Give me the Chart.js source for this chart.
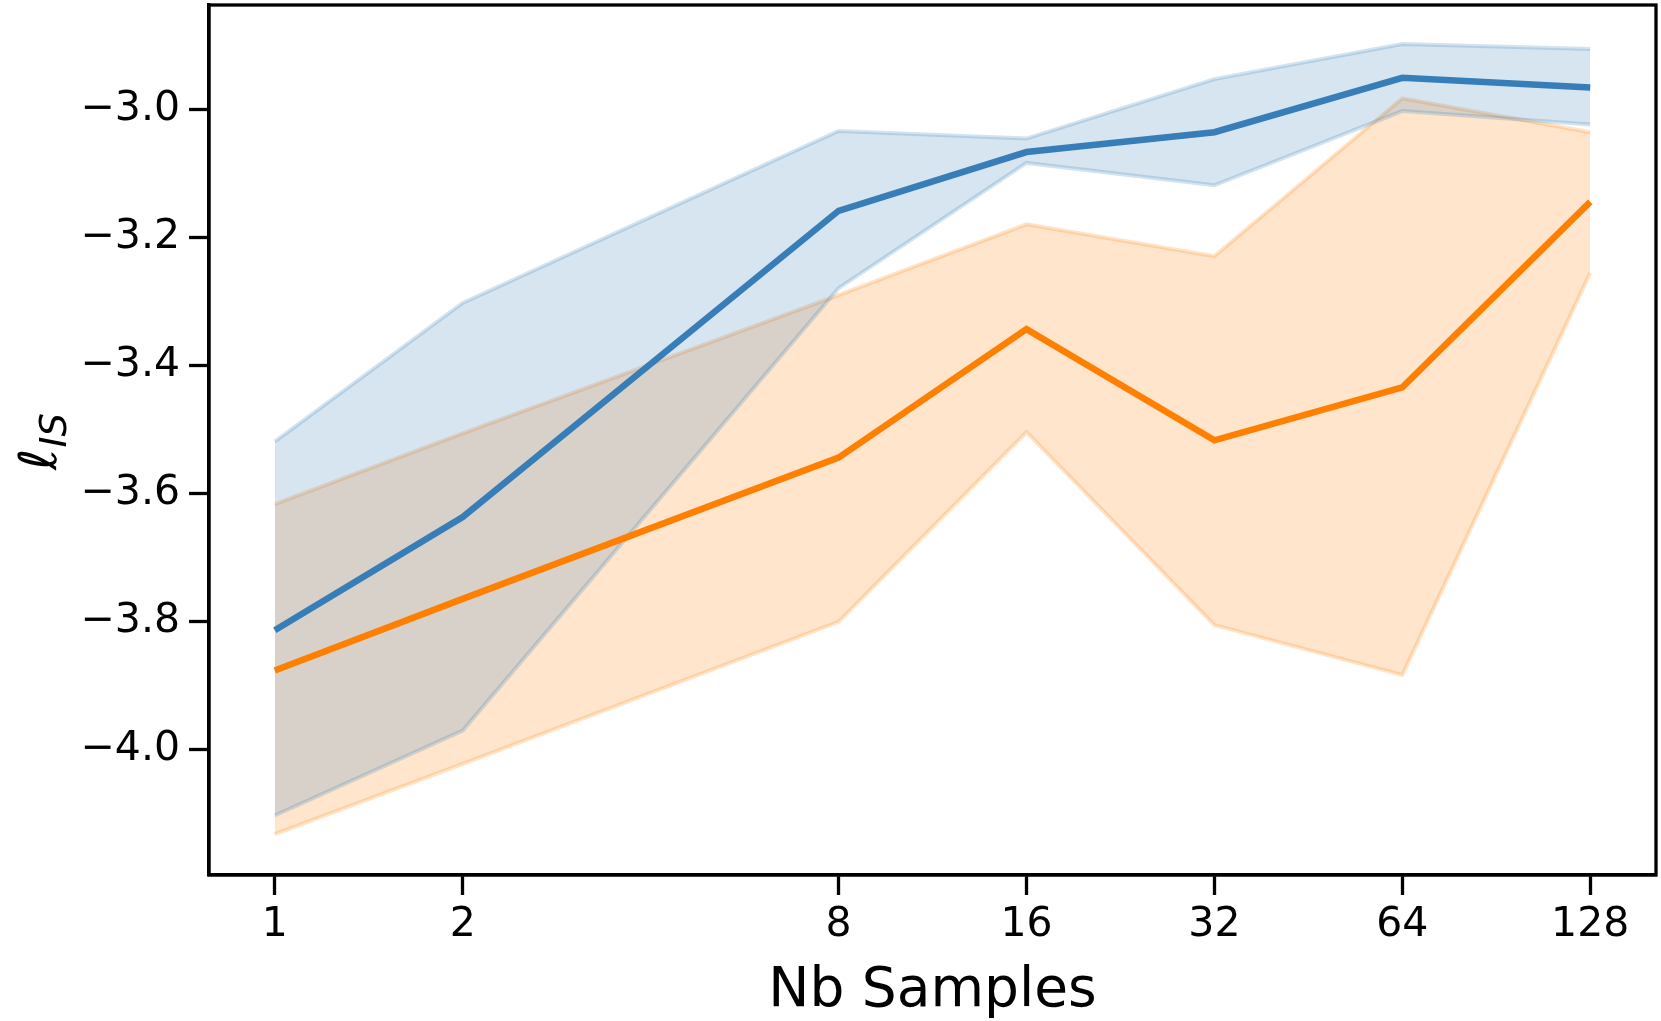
<!DOCTYPE html>
<html>
<head>
<meta charset="utf-8">
<script src="https://cdn.jsdelivr.net/npm/chart.js@4.4.1/dist/chart.umd.min.js"></script>
<style>
  html, body { margin: 0; padding: 0; background: #fff; }
  #chart { display: block; }
</style>
</head>
<body>
<canvas id="chart" width="1661" height="1021"></canvas>
<script>
// samples on a log2 axis
const samples = [1, 2, 8, 16, 32, 64, 128];
const xTickLabels = ["1", "2", "8", "16", "32", "64", "128"];
const yTicks = [-4.0, -3.8, -3.6, -3.4, -3.2, -3.0];

// blue run
const blueMean  = [-3.814, -3.637, -3.158, -3.066, -3.035, -2.950, -2.965];
const blueUpper = [-3.519, -3.302, -3.033, -3.045, -2.952, -2.897, -2.905];
const blueLower = [-4.104, -3.971, -3.279, -3.083, -3.118, -3.002, -3.023];

// orange run
const orangeMean  = [-3.877, -3.765, -3.544, -3.343, -3.517, -3.434, -3.144];
const orangeUpper = [-3.617, -3.506, -3.290, -3.179, -3.229, -2.982, -3.035];
const orangeLower = [-4.133, -4.023, -3.801, -3.504, -3.806, -3.884, -3.255];

const BLUE = "#377eb8";
const ORANGE = "#ff7f00";
const FONT = "'DejaVu Sans', sans-serif";

const xPos = samples.map(s => Math.log2(s));
const pts = arr => arr.map((v, i) => ({ x: xPos[i], y: v }));

function line(data, color) {
  return { data: pts(data), borderColor: color, borderWidth: 6.5, pointRadius: 0, tension: 0, fill: false };
}
function band(data, rgb, fill) {
  return {
    data: pts(data), borderColor: `rgba(${rgb},0.22)`, borderWidth: 4, pointRadius: 0, tension: 0,
    fill: fill, backgroundColor: `rgba(${rgb},0.2)`
  };
}

// frame + axis labels
const extras = {
  id: "extras",
  afterDraw(chart) {
    const { ctx, chartArea: a } = chart;
    ctx.save();
    ctx.strokeStyle = "#000";
    ctx.lineWidth = 3.3;
    ctx.strokeRect(a.left, a.top, a.right - a.left, a.bottom - a.top);

    ctx.fillStyle = "#000";
    ctx.font = `55px ${FONT}`;
    ctx.textAlign = "center";
    ctx.textBaseline = "alphabetic";
    ctx.fillText("Nb Samples", (a.left + a.right) / 2, 1006);

    // y label: italic l with subscript IS
    ctx.translate(56, 442);
    ctx.rotate(-Math.PI / 2);
    ctx.textAlign = "left";
    ctx.font = `italic 52px ${FONT}`;
    const w1 = ctx.measureText("ℓ").width;
    ctx.font = `italic 37px ${FONT}`;
    const w2 = ctx.measureText("IS").width;
    const x0 = -(w1 + w2) / 2;
    ctx.font = `italic 52px ${FONT}`;
    ctx.fillText("ℓ", x0, 0);
    ctx.font = `italic 37px ${FONT}`;
    ctx.fillText("IS", x0 + w1 + 1, 10);
    ctx.restore();
  }
};

new Chart(document.getElementById("chart"), {
  type: "line",
  data: {
    datasets: [
      line(blueMean, BLUE),
      line(orangeMean, ORANGE),
      band(blueUpper, "55,126,184", "+1"),
      band(blueLower, "55,126,184", false),
      band(orangeUpper, "255,127,0", "+1"),
      band(orangeLower, "255,127,0", false)
    ]
  },
  options: {
    responsive: false,
    devicePixelRatio: 1,
    animation: false,
    layout: { padding: { left: 0, right: 5, top: 5, bottom: 0 } },
    plugins: { legend: { display: false }, tooltip: { enabled: false } },
    scales: {
      x: {
        type: "linear",
        min: -0.35,
        max: 7.35,
        afterBuildTicks: s => { s.ticks = xPos.map(v => ({ value: v })); },
        afterFit: s => { s.height = 146; s.paddingLeft = 0; s.paddingRight = 0; },
        grid: { display: true, drawOnChartArea: false, drawTicks: true, tickLength: 20, tickWidth: 3.3, tickColor: "#000" },
        border: { display: true, color: "#000", width: 3.3 },
        ticks: {
          color: "#000", padding: 6, font: { family: FONT, size: 41 }, maxRotation: 0,
          callback: v => xTickLabels[xPos.indexOf(v)] ?? ""
        }
      },
      y: {
        type: "linear",
        min: -4.197,
        max: -2.836,
        afterBuildTicks: s => { s.ticks = yTicks.map(v => ({ value: v })); },
        afterFit: s => { s.width = 209; s.paddingTop = 0; s.paddingBottom = 0; },
        grid: { display: true, drawOnChartArea: false, drawTicks: true, tickLength: 20, tickWidth: 3.3, tickColor: "#000" },
        border: { display: true, color: "#000", width: 3.3 },
        ticks: {
          color: "#000", padding: 9, font: { family: FONT, size: 41 },
          callback: v => "\u2212" + Math.abs(v).toFixed(1)
        }
      }
    }
  },
  plugins: [extras]
});
</script>
</body>
</html>
